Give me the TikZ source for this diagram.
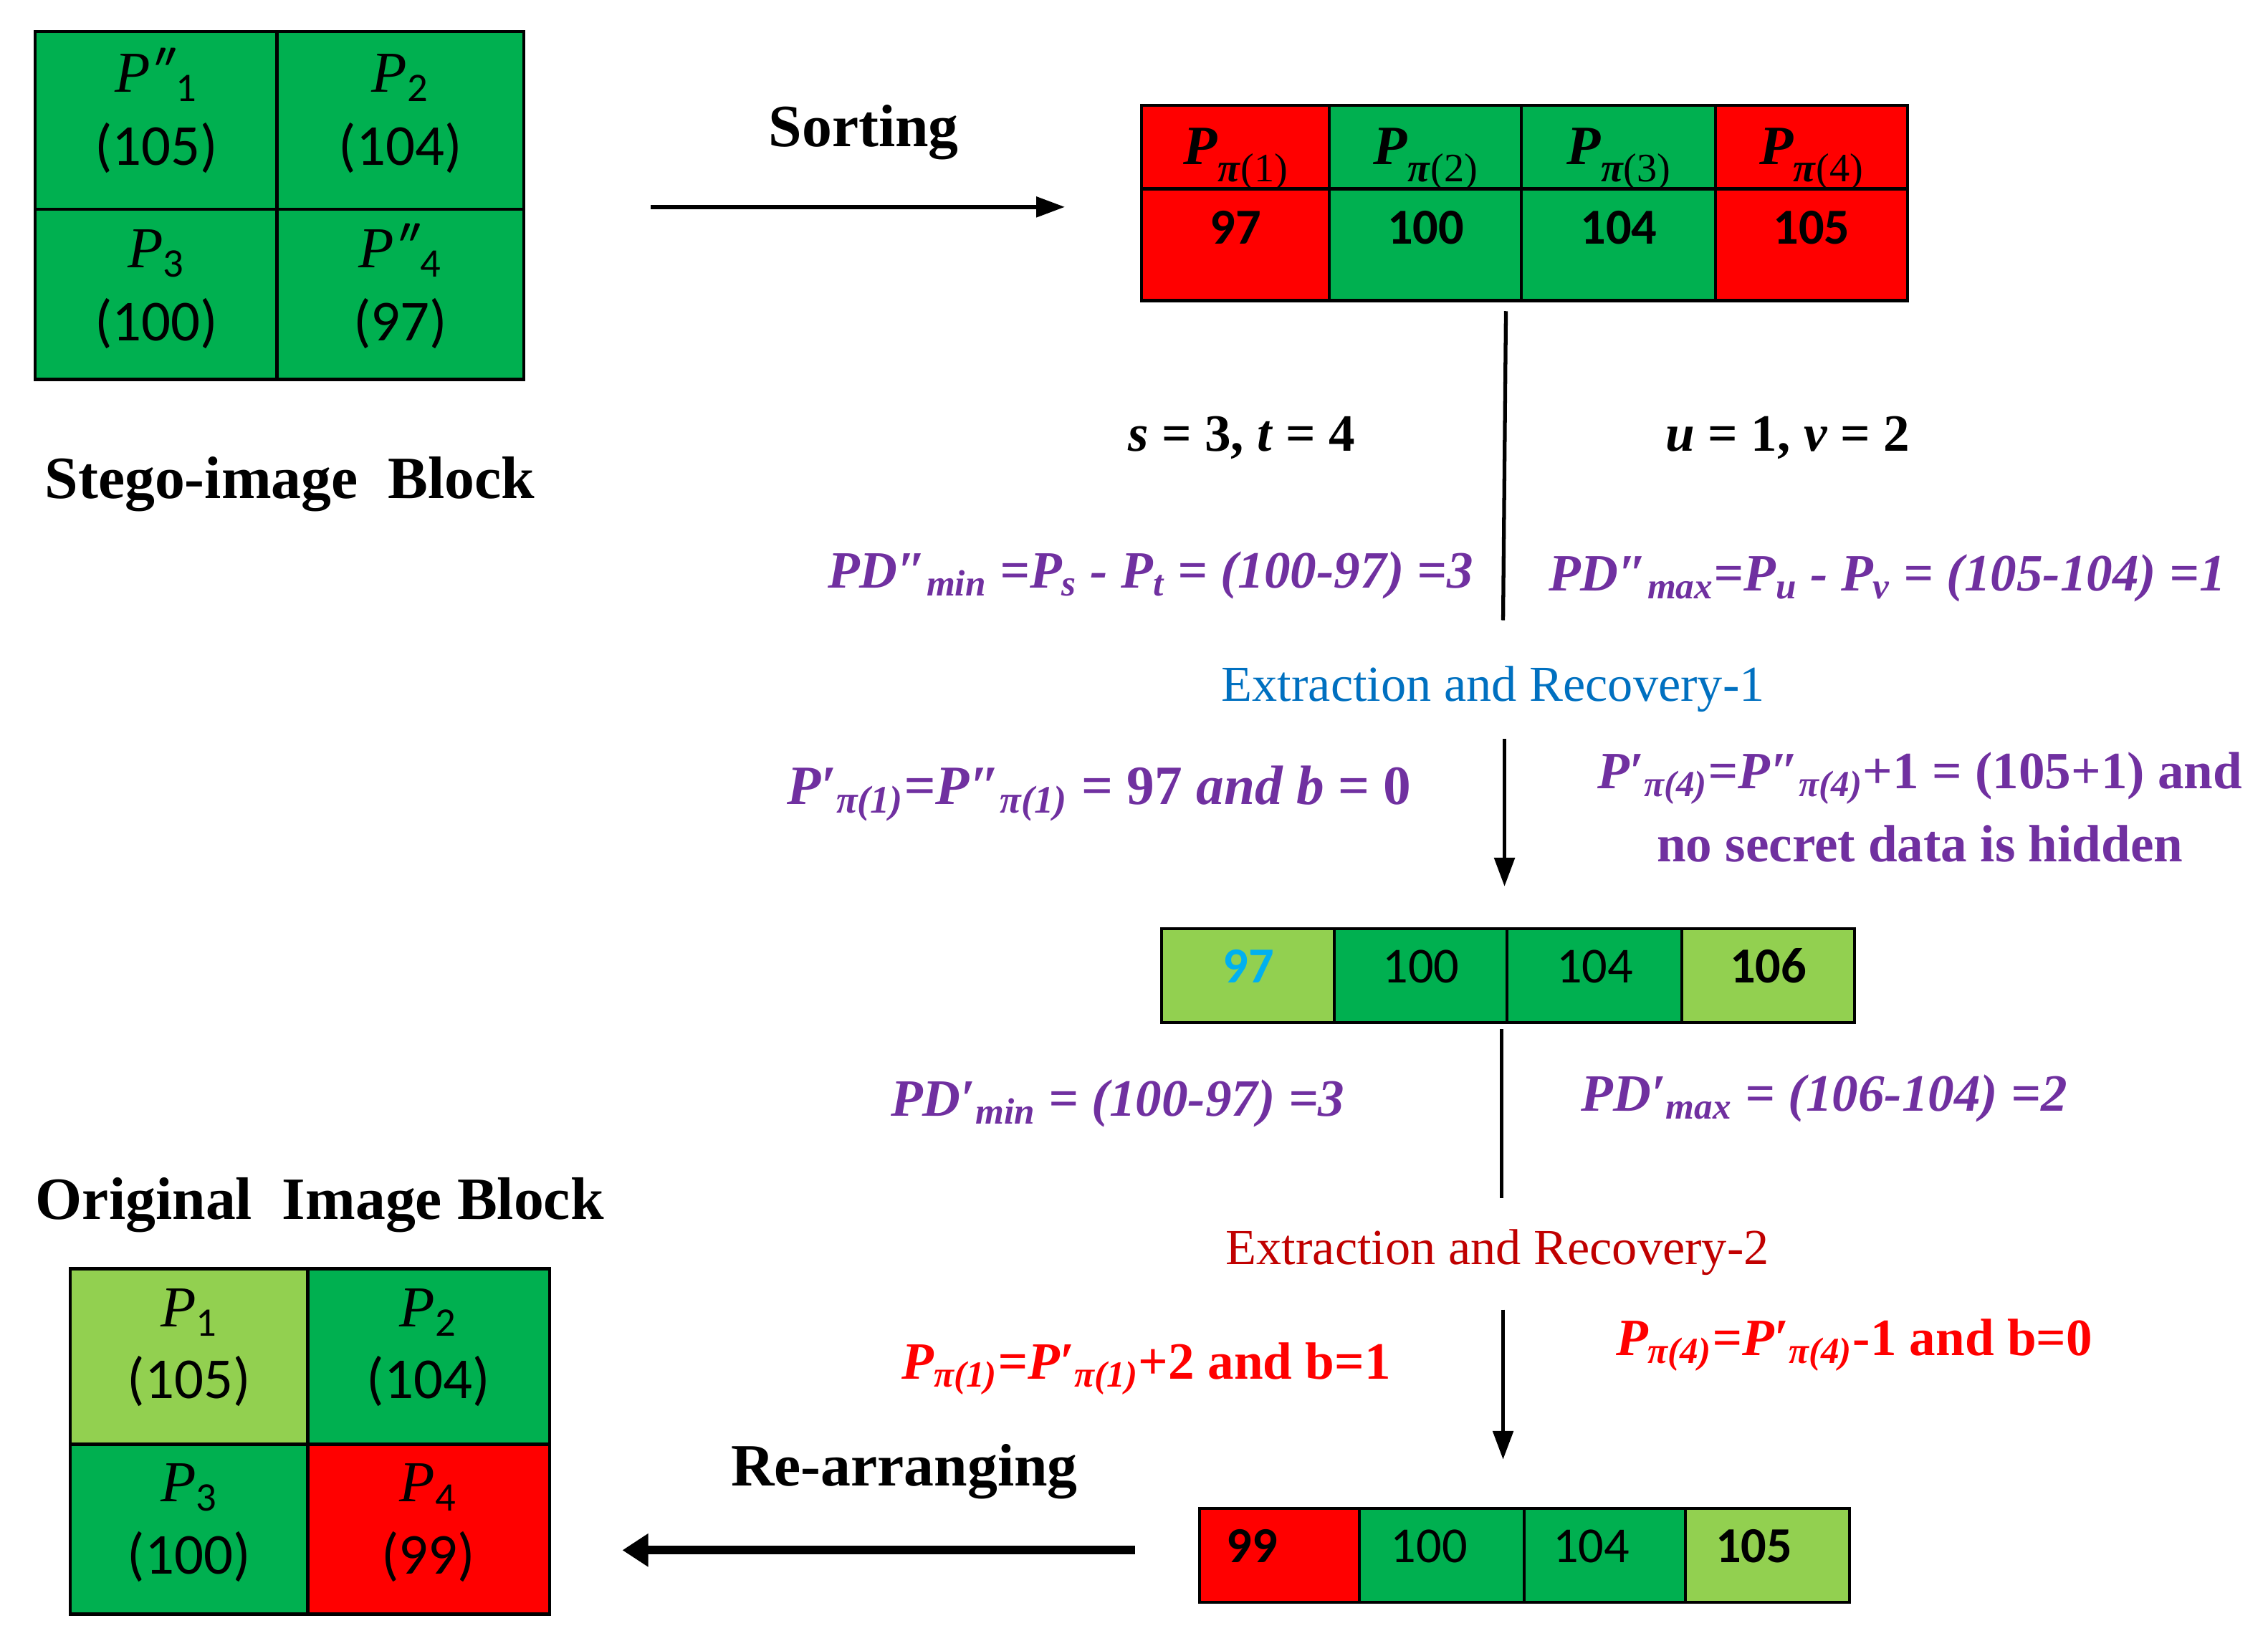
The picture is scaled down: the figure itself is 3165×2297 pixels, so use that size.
\documentclass[tikz,border=0pt]{standalone}
\usepackage{fontspec}
\setmainfont{Liberation Serif}
\newfontfamily\calib{Carlito}
\usetikzlibrary{arrows.meta}
\definecolor{dg}{HTML}{00B050}
\definecolor{lg}{HTML}{92D050}
\definecolor{rd}{HTML}{FF0000}
\definecolor{pu}{HTML}{7030A0}
\definecolor{bl}{HTML}{0070C0}
\definecolor{dr}{HTML}{C00000}
\definecolor{cy}{HTML}{00B0F0}
\newcommand\bi[1]{\textbf{\textit{#1}}}
\newcommand\sbx[1]{\textsubscript{#1}}
\newcommand\ip[1]{{\rmfamily\textit{P}}#1}
\newcommand\hp[1]{\bi{P}\raisebox{-0.32em}{\fontsize{16}{16}\selectfont\bi{π}(#1)}}
\begin{document}
\begin{tikzpicture}[x=0.01cm,y=-0.01cm,
  cell/.style={draw=black,line width=1.25pt,inner sep=0pt,outer sep=0pt},
  qtxt/.style={font=\fontsize{23}{28}\selectfont\calib,anchor=base,inner sep=0pt},
  hdr/.style={font=\fontsize{22}{26}\selectfont,anchor=base,inner sep=0pt},
  num/.style={font=\fontsize{20}{24}\selectfont\calib,anchor=base,inner sep=0pt},
  bnum/.style={font=\fontsize{20}{24}\selectfont\calib\bfseries,anchor=base,inner sep=0pt},
  lbl/.style={font=\fontsize{23.8}{28}\selectfont\bfseries,anchor=base,inner sep=0pt},
  fml/.style={font=\fontsize{20.8}{26}\selectfont,anchor=base,inner sep=0pt},
  conn/.style={line width=1.5pt},
  arr/.style={line width=1.6pt,-{Triangle[length=0.4cm,width=0.28cm]}},
  thickarr/.style={line width=3.4pt,-{Triangle[length=0.36cm,width=0.44cm]}}]
\path[use as bounding box] (0,0) rectangle (3165,2297);
\begin{scope}[scale=0.996]
% ---------- stego-image block ----------
\node[cell,fill=dg,minimum width=3.39cm,minimum height=2.49cm] (s1) at (219.5,169.5) {};
\node[cell,fill=dg,minimum width=3.44cm,minimum height=2.49cm] (s2) at (561,169.5) {};
\node[cell,fill=dg,minimum width=3.39cm,minimum height=2.37cm] (s3) at (219.5,412.5) {};
\node[cell,fill=dg,minimum width=3.44cm,minimum height=2.37cm] (s4) at (561,412.5) {};
\node[qtxt] (s1a) at (219,129) {\ip{\textit{″}\sbx{1}}};
\node[qtxt] (s1b) at (219,231) {(105)};
\node[qtxt] (s2a) at (561,129) {\ip{\sbx{2}}};
\node[qtxt] (s2b) at (561,231) {(104)};
\node[qtxt] (s3a) at (219,375) {\ip{\sbx{3}}};
\node[qtxt] (s3b) at (219,477) {(100)};
\node[qtxt] (s4a) at (561,375) {\ip{\textit{″}\sbx{4}}};
\node[qtxt] (s4b) at (561,477) {(97)};
\node[lbl] (stego) at (406,698) {Stego-image\ \ Block};

% ---------- sorting ----------
\coordinate (sortA) at (912,290);
\coordinate (sortB) at (1492,290);
\draw[arr] (sortA) -- (sortB);
\node[lbl] (sorting) at (1210,205) {Sorting};

% ---------- sorted array ----------
\node[cell,fill=rd,minimum width=2.63cm,minimum height=1.17cm] (t1a) at (1731.5,206.5) {};
\node[cell,fill=dg,minimum width=2.69cm,minimum height=1.17cm] (t2a) at (1997.5,206.5) {};
\node[cell,fill=dg,minimum width=2.72cm,minimum height=1.17cm] (t3a) at (2268,206.5) {};
\node[cell,fill=rd,minimum width=2.68cm,minimum height=1.17cm] (t4a) at (2538,206.5) {};
\node[cell,fill=rd,minimum width=2.63cm,minimum height=1.56cm] (t1b) at (1731.5,343) {};
\node[cell,fill=dg,minimum width=2.69cm,minimum height=1.56cm] (t2b) at (1997.5,343) {};
\node[cell,fill=dg,minimum width=2.72cm,minimum height=1.56cm] (t3b) at (2268,343) {};
\node[cell,fill=rd,minimum width=2.68cm,minimum height=1.56cm] (t4b) at (2538,343) {};
\node[hdr] (h1) at (1731.5,230) {\hp{1}};
\node[hdr] (h2) at (1997.5,230) {\hp{2}};
\node[hdr] (h3) at (2268,230) {\hp{3}};
\node[hdr] (h4) at (2538,230) {\hp{4}};
\node[bnum] (n1) at (1731.5,342) {97};
\node[bnum] (n2) at (1997.5,342) {100};
\node[bnum] (n3) at (2268,342) {104};
\node[bnum] (n4) at (2538,342) {105};

% ---------- first split ----------
\coordinate (v1a) at (2110,436);
\coordinate (v1b) at (2106,869);
\draw[conn] (v1a) -- (v1b);
\node[fml] (st) at (1740,632) {\textbf{\textit{s} = 3, \textit{t} = 4}};
\node[fml] (uv) at (2505,632) {\textbf{\textit{u} = 1, \textit{v} = 2}};
\node[fml,text=pu] (f1) at (1612,824) {\bi{PD″\sbx{min} =P\sbx{s} - P\sbx{t} = (100-97) =3}};
\node[fml,text=pu] (f2) at (2644,828) {\bi{PD″\sbx{max}=P\sbx{u} - P\sbx{v} = (105-104) =1}};

% ---------- extraction 1 ----------
\node[fml,font=\fontsize{20}{24}\selectfont,text=bl] (er1) at (2092,982) {Extraction and Recovery-1};
\coordinate (a1a) at (2108,1035);
\coordinate (a1b) at (2108,1242);
\draw[arr] (a1a) -- (a1b);
\node[fml,font=\fontsize{22}{26}\selectfont,text=pu] (f3) at (1540,1127) {\bi{P′\sbx{π(1)}=P″\sbx{π(1)}} \textbf{= 97} \bi{and b} \textbf{= 0}};
\node[fml,text=pu] (f4a) at (2690,1105) {\bi{P′\sbx{π(4)}=P″\sbx{π(4)}}\textbf{+1 = (105+1) and}};
\node[fml,text=pu] (f4b) at (2690,1207) {\textbf{no secret data is hidden}};

% ---------- middle array ----------
\node[cell,fill=lg,minimum width=2.42cm,minimum height=1.31cm] (m1) at (1749,1367) {};
\node[cell,fill=dg,minimum width=2.42cm,minimum height=1.31cm] (m2) at (1991,1367) {};
\node[cell,fill=dg,minimum width=2.45cm,minimum height=1.31cm] (m3) at (2234.5,1367) {};
\node[cell,fill=lg,minimum width=2.41cm,minimum height=1.31cm] (m4) at (2477.5,1367) {};
\node[bnum,text=cy] (mn1) at (1749,1377) {97};
\node[num] (mn2) at (1991,1377) {100};
\node[num] (mn3) at (2234.5,1377) {104};
\node[bnum] (mn4) at (2477.5,1377) {106};

\coordinate (v2a) at (2104,1442);
\coordinate (v2b) at (2104,1679);
\draw[conn] (v2a) -- (v2b);
\node[fml,text=pu] (f5) at (1566,1564) {\bi{PD′\sbx{min} = (100-97) =3}};
\node[fml,text=pu] (f6) at (2556,1557) {\bi{PD′\sbx{max} = (106-104) =2}};

% ---------- extraction 2 ----------
\node[fml,font=\fontsize{20}{24}\selectfont,text=dr] (er2) at (2098,1772) {Extraction and Recovery-2};
\coordinate (a2a) at (2106,1835);
\coordinate (a2b) at (2106,2045);
\draw[arr] (a2a) -- (a2b);
\node[fml,text=rd] (f7) at (1606,1932) {\bi{P\sbx{π(1)}=P′\sbx{π(1)}}\textbf{+2 and b=1}};
\node[fml,text=rd] (f8) at (2598,1899) {\bi{P\sbx{π(4)}=P′\sbx{π(4)}}\textbf{-1 and b=0}};

% ---------- bottom array ----------
\node[cell,fill=rd,minimum width=2.24cm,minimum height=1.31cm] (b1) at (1793,2179) {};
\node[cell,fill=dg,minimum width=2.31cm,minimum height=1.31cm] (b2) at (2020.5,2179) {};
\node[cell,fill=dg,minimum width=2.26cm,minimum height=1.31cm] (b3) at (2249,2179) {};
\node[cell,fill=lg,minimum width=2.29cm,minimum height=1.31cm] (b4) at (2476.5,2179) {};
\node[bnum,anchor=base west] (bn1) at (1718,2189) {99};
\node[num,anchor=base west] (bn2) at (1948,2189) {100};
\node[num,anchor=base west] (bn3) at (2175,2189) {104};
\node[bnum,anchor=base west] (bn4) at (2403,2189) {105};

% ---------- re-arranging ----------
\coordinate (reA) at (1590,2172);
\coordinate (reB) at (872,2172);
\draw[thickarr] (reA) -- (reB);
\node[lbl] (rearr) at (1267,2082) {Re-arranging};

% ---------- original image block ----------
\node[lbl] (orig) at (448,1708) {Original\ \ Image Block};
\node[cell,fill=lg,minimum width=3.33cm,minimum height=2.46cm] (o1) at (265.5,1901) {};
\node[cell,fill=dg,minimum width=3.37cm,minimum height=2.46cm] (o2) at (600.5,1901) {};
\node[cell,fill=dg,minimum width=3.33cm,minimum height=2.37cm] (o3) at (265.5,2142.5) {};
\node[cell,fill=rd,minimum width=3.37cm,minimum height=2.37cm] (o4) at (600.5,2142.5) {};
\node[qtxt] (o1a) at (265,1859) {\ip{\sbx{1}}};
\node[qtxt] (o1b) at (265,1959) {(105)};
\node[qtxt] (o2a) at (600,1859) {\ip{\sbx{2}}};
\node[qtxt] (o2b) at (600,1959) {(104)};
\node[qtxt] (o3a) at (265,2104) {\ip{\sbx{3}}};
\node[qtxt] (o3b) at (265,2205) {(100)};
\node[qtxt] (o4a) at (600,2104) {\ip{\sbx{4}}};
\node[qtxt] (o4b) at (600,2205) {(99)};
\end{scope}
\end{tikzpicture}
\end{document}
